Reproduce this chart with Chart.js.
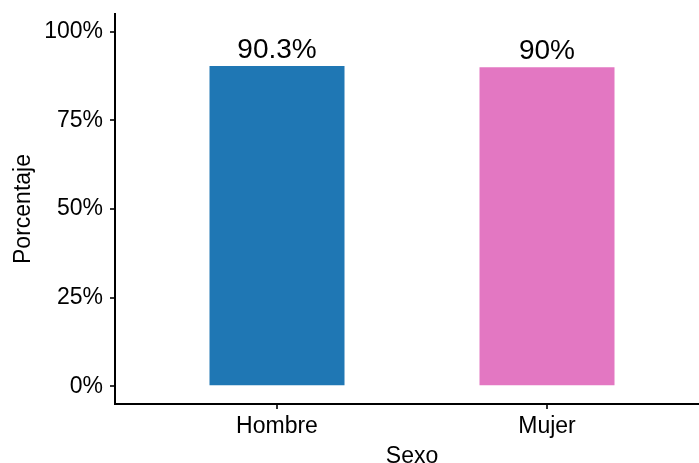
<!DOCTYPE html>
<html>
<head>
<meta charset="utf-8">
<script src="https://cdn.jsdelivr.net/npm/chart.js@4.4.1/dist/chart.umd.min.js"></script>
<style>
  html, body { margin: 0; padding: 0; background: #fff; overflow: hidden; }
  #wrap { width: 710px; height: 463px; position: relative; }
</style>
</head>
<body>
<div id="wrap"><canvas id="chart"></canvas></div>
<script>
  // Data
  const categories = ['Hombre', 'Mujer'];
  const percentages = [90.3, 90];
  const barColors = ['#1f77b4', '#e377c2'];
  const yTicks = [0, 25, 50, 75, 100];

  const FONT = "'Liberation Sans', Arial, sans-serif";

  // Value labels on top of the bars
  const barLabels = {
    id: 'barLabels',
    afterDatasetsDraw(chart) {
      const ctx = chart.ctx;
      const meta = chart.getDatasetMeta(0);
      ctx.save();
      ctx.font = '28px ' + FONT;
      ctx.fillStyle = '#000';
      ctx.textAlign = 'center';
      ctx.textBaseline = 'alphabetic';
      meta.data.forEach((bar, i) => {
        ctx.fillText(percentages[i] + '%', bar.x, bar.y - 8);
      });
      ctx.restore();
    }
  };

  new Chart(document.getElementById('chart'), {
    type: 'bar',
    data: {
      datasets: [{
        data: categories.map((c, i) => ({ x: i + 1, y: percentages[i] })),
        backgroundColor: barColors,
        borderWidth: 0,
        categoryPercentage: 0.5,
        barPercentage: 1
      }]
    },
    options: {
      responsive: true,
      maintainAspectRatio: false,
      animation: false,
      events: [],
      layout: { padding: { top: 14, right: 1, left: 0, bottom: 0 } },
      plugins: {
        legend: { display: false },
        tooltip: { enabled: false }
      },
      scales: {
        x: {
          type: 'linear',
          min: 0.4,
          max: 2.6,
          offset: false,
          afterBuildTicks: (scale) => {
            scale.ticks = categories.map((c, i) => ({ value: i + 1 }));
          },
          afterFit: (scale) => {
            scale.height = 59;
            scale.paddingLeft = 0;
            scale.paddingRight = 0;
          },
          grid: {
            display: true,
            offset: false,
            drawOnChartArea: false,
            drawTicks: true,
            tickLength: 5,
            tickColor: '#333',
            lineWidth: 2
          },
          border: { display: true, color: '#000', width: 2 },
          ticks: {
            color: '#000',
            font: { family: FONT, size: 23 },
            padding: 4,
            maxRotation: 0,
            callback: (v) => categories[v - 1]
          },
          title: {
            display: true,
            text: 'Sexo',
            color: '#000',
            font: { family: FONT, size: 23 },
            padding: { top: 0, bottom: -7 }
          }
        },
        y: {
          min: -5,
          max: 105,
          afterBuildTicks: (scale) => {
            scale.ticks = yTicks.map(v => ({ value: v }));
          },
          afterFit: (scale) => {
            scale.width = 115;
            scale.paddingTop = 0;
            scale.paddingBottom = 0;
          },
          grid: {
            display: true,
            drawOnChartArea: false,
            drawTicks: true,
            tickLength: 5,
            tickColor: '#333',
            lineWidth: 2
          },
          border: { display: true, color: '#000', width: 2 },
          ticks: {
            color: '#000',
            font: { family: FONT, size: 23 },
            padding: 7,
            callback: (v) => v + '%'
          },
          title: {
            display: true,
            text: 'Porcentaje',
            color: '#000',
            font: { family: FONT, size: 23 },
            padding: { top: 10, bottom: 0 }
          }
        }
      }
    },
    plugins: [barLabels]
  });
</script>
</body>
</html>
